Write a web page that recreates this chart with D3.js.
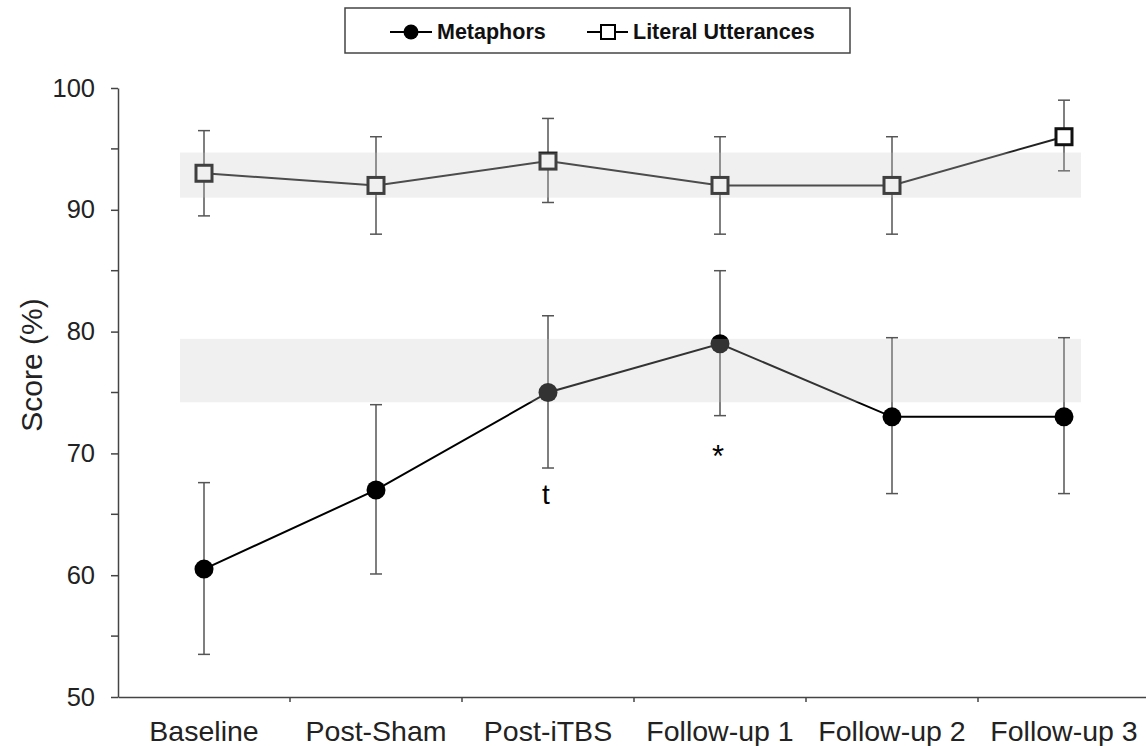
<!DOCTYPE html>
<html>
<head>
<meta charset="utf-8">
<script src="https://cdn.jsdelivr.net/npm/d3@7"></script>
<style>
  body { margin: 0; background: #fff; }
  svg { font-family: "Liberation Sans", Arial, sans-serif; }
</style>
</head>
<body>
<div id="canvas"></div>
<script>
// data
var sessions = ["Baseline", "Post-Sham", "Post-iTBS", "Follow-up 1", "Follow-up 2", "Follow-up 3"];
var metaphorMean = [60.5, 67, 75, 79, 73, 73];
var metaphorLow  = [53.5, 60.1, 68.8, 73.1, 66.7, 66.7];
var metaphorHigh = [67.6, 74.0, 81.3, 85.0, 79.5, 79.5];
var literalMean = [93, 92, 94, 92, 92, 96];
var literalLow  = [89.5, 88, 90.6, 88, 88, 93.2];
var literalHigh = [96.5, 96, 97.5, 96, 96, 99];
// grey reference bands [low, high]
var literalBand = [91, 94.7];
var metaphorBand = [74.2, 79.4];
var majorTicks = [50, 60, 70, 80, 90, 100];
var minorTicks = [55, 65, 75, 85, 95];
var marks = [{session: "Post-iTBS", label: "t"}, {session: "Follow-up 1", label: "*"}];

function init() {
    var svg = d3.select("#canvas").append("svg")
        .attr("width", 1146)
        .attr("height", 746);

    var x = d3.scaleBand().domain(sessions).range([118, 1150]);
    var cx = function(s) { return x(s) + x.bandwidth() / 2; };
    var y = d3.scaleLinear().domain([50, 100]).range([697, 88]);

    // y axis
    var yAxis = svg.append("g")
        .attr("transform", "translate(118,0)")
        .call(d3.axisLeft(y).tickValues(majorTicks).tickSize(7).tickPadding(16).tickSizeOuter(0));
    yAxis.selectAll("text").attr("font-size", 25.5).attr("fill", "#222");
    yAxis.append("g").selectAll("line")
        .data(minorTicks)
        .enter().append("line")
        .attr("x1", -7).attr("x2", 0)
        .attr("y1", function(d) { return y(d); })
        .attr("y2", function(d) { return y(d); })
        .attr("stroke", "#444");
    yAxis.selectAll("path, line").attr("stroke", "#444").attr("stroke-width", 1.5);

    // x axis: labels centred, ticks at category borders
    var xAxis = svg.append("g")
        .attr("transform", "translate(0,697)")
        .call(d3.axisBottom(x).tickSize(0).tickPadding(24).tickSizeOuter(0));
    xAxis.selectAll("text").attr("font-size", 28.5).attr("fill", "#222");
    xAxis.select(".domain").attr("stroke", "#444").attr("stroke-width", 1.5);
    xAxis.append("g").selectAll("line")
        .data(sessions.slice(1))
        .enter().append("line")
        .attr("x1", function(d) { return x(d); })
        .attr("x2", function(d) { return x(d); })
        .attr("y1", 0).attr("y2", 5)
        .attr("stroke", "#444").attr("stroke-width", 1.5);

    svg.append("text")
        .attr("transform", "translate(42,365) rotate(-90)")
        .attr("text-anchor", "middle")
        .attr("font-size", 30)
        .attr("fill", "#222")
        .text("Score (%)");

    var plot = svg.append("g");

    function errorBars(low, high) {
        var g = plot.append("g").attr("stroke", "#555").attr("stroke-width", 1.5);
        sessions.forEach(function(s, i) {
            g.append("line")
                .attr("x1", cx(s)).attr("x2", cx(s))
                .attr("y1", y(low[i])).attr("y2", y(high[i]));
            [low[i], high[i]].forEach(function(v) {
                g.append("line")
                    .attr("x1", cx(s) - 6).attr("x2", cx(s) + 6)
                    .attr("y1", y(v)).attr("y2", y(v));
            });
        });
    }
    errorBars(literalLow, literalHigh);
    errorBars(metaphorLow, metaphorHigh);

    var line = d3.line()
        .x(function(d, i) { return cx(sessions[i]); })
        .y(function(d) { return y(d); });

    plot.append("path")
        .datum(literalMean)
        .attr("d", line)
        .attr("fill", "none")
        .attr("stroke", "#222")
        .attr("stroke-width", 2);
    plot.append("path")
        .datum(metaphorMean)
        .attr("d", line)
        .attr("fill", "none")
        .attr("stroke", "#000")
        .attr("stroke-width", 2);

    plot.selectAll("circle.met")
        .data(metaphorMean)
        .enter().append("circle")
        .attr("class", "met")
        .attr("cx", function(d, i) { return cx(sessions[i]); })
        .attr("cy", function(d) { return y(d); })
        .attr("r", 9.5)
        .attr("fill", "#000");

    plot.selectAll("rect.lit")
        .data(literalMean)
        .enter().append("rect")
        .attr("class", "lit")
        .attr("x", function(d, i) { return cx(sessions[i]) - 8; })
        .attr("y", function(d) { return y(d) - 8; })
        .attr("width", 16)
        .attr("height", 16)
        .attr("fill", "#fff")
        .attr("stroke", "#111")
        .attr("stroke-width", 3);

    // translucent bands lie over the lines and markers
    [literalBand, metaphorBand].forEach(function(b) {
        svg.append("rect")
            .attr("x", cx(sessions[0]) - 24)
            .attr("width", cx(sessions[5]) + 17 - (cx(sessions[0]) - 24))
            .attr("y", y(b[1]))
            .attr("height", y(b[0]) - y(b[1]))
            .attr("fill", "rgb(197,197,197)")
            .attr("fill-opacity", 0.26);
    });

    // significance marks
    var mi = function(s) { return sessions.indexOf(s); };
    svg.append("text")
        .attr("x", cx(marks[0].session) - 2)
        .attr("y", y(metaphorLow[mi(marks[0].session)]) + 36)
        .attr("text-anchor", "middle")
        .attr("font-size", 28)
        .text(marks[0].label);
    svg.append("text")
        .attr("x", cx(marks[1].session) - 2)
        .attr("y", y(metaphorLow[mi(marks[1].session)]) + 51)
        .attr("text-anchor", "middle")
        .attr("font-size", 31)
        .text(marks[1].label);

    // legend
    var legend = svg.append("g");
    legend.append("rect")
        .attr("x", 345).attr("y", 8)
        .attr("width", 505).attr("height", 45)
        .attr("fill", "#fff")
        .attr("stroke", "#444")
        .attr("stroke-width", 1.5);
    legend.append("line")
        .attr("x1", 390).attr("x2", 432).attr("y1", 32).attr("y2", 32)
        .attr("stroke", "#000").attr("stroke-width", 2);
    legend.append("circle")
        .attr("cx", 411).attr("cy", 32).attr("r", 7.5).attr("fill", "#000");
    legend.append("text")
        .attr("x", 437).attr("y", 39)
        .attr("font-size", 21.5).attr("font-weight", "bold").attr("fill", "#111")
        .text("Metaphors");
    legend.append("line")
        .attr("x1", 587).attr("x2", 628).attr("y1", 32).attr("y2", 32)
        .attr("stroke", "#000").attr("stroke-width", 2);
    legend.append("rect")
        .attr("x", 601).attr("y", 25).attr("width", 14).attr("height", 14)
        .attr("fill", "#fff").attr("stroke", "#000").attr("stroke-width", 2);
    legend.append("text")
        .attr("x", 633).attr("y", 39)
        .attr("font-size", 21.5).attr("font-weight", "bold").attr("fill", "#111")
        .text("Literal Utterances");
}
window.onload = init;
</script>
</body>
</html>
